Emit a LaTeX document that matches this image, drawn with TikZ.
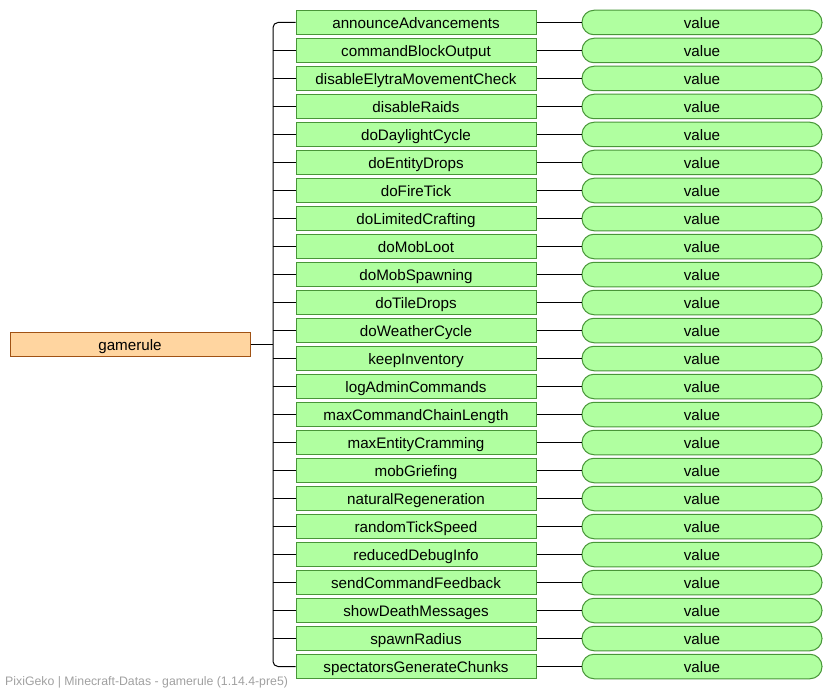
\documentclass[tikz,border=0pt]{standalone}
\usepackage{fontspec}
\setmainfont{Liberation Sans}
\definecolor{keyfill}{RGB}{176,255,160}
\definecolor{keydraw}{RGB}{72,150,56}
\definecolor{rootfill}{RGB}{255,213,160}
\definecolor{rootdraw}{RGB}{160,82,20}
\definecolor{footgray}{RGB}{160,160,160}
\begin{document}
\begin{tikzpicture}[x=1pt,y=-1pt,
  keybox/.style={draw=keydraw,fill=keyfill,line width=1pt,minimum width=240pt,minimum height=24.5pt,inner sep=0pt,text height=11.5pt,text depth=0pt,font=\fontsize{15.2}{17}\selectfont},
  valbox/.style={keybox,rounded corners=12pt},
  rootbox/.style={keybox,draw=rootdraw,fill=rootfill},
  link/.style={line width=1pt,black}]
\useasboundingbox (0,0) rectangle (833,690);
\node[rootbox] (root) at (130,344.5) {gamerule};
\coordinate (br) at (273,344.5);
\foreach \name [count=\i from 0] in {announceAdvancements,commandBlockOutput,disableElytraMovementCheck,disableRaids,doDaylightCycle,doEntityDrops,doFireTick,doLimitedCrafting,doMobLoot,doMobSpawning,doTileDrops,doWeatherCycle,keepInventory,logAdminCommands,maxCommandChainLength,maxEntityCramming,mobGriefing,naturalRegeneration,randomTickSpeed,reducedDebugInfo,sendCommandFeedback,showDeathMessages,spawnRadius,spectatorsGenerateChunks}{
  \node[keybox] (k\i) at (416,22.5+28*\i) {\name};
  \node[valbox] (v\i) at (702,22.5+28*\i) {value};
  \draw[link] (k\i.east) -- (v\i.west);
}
\draw[link] (root.east) -- (br);
\draw[link,rounded corners=5pt] (k0.west) -- (k0.west -| br) -- (k23.west -| br) -- (k23.west);
\foreach \i in {1,...,22}{
  \draw[link] (k\i.west -| br) -- (k\i.west);
}
\node[anchor=base west,inner sep=0pt,text=footgray,font=\fontsize{12.3}{14}\selectfont] (foot) at (5,685) {PixiGeko | Minecraft-Datas - gamerule (1.14.4-pre5)};
\end{tikzpicture}
\end{document}
